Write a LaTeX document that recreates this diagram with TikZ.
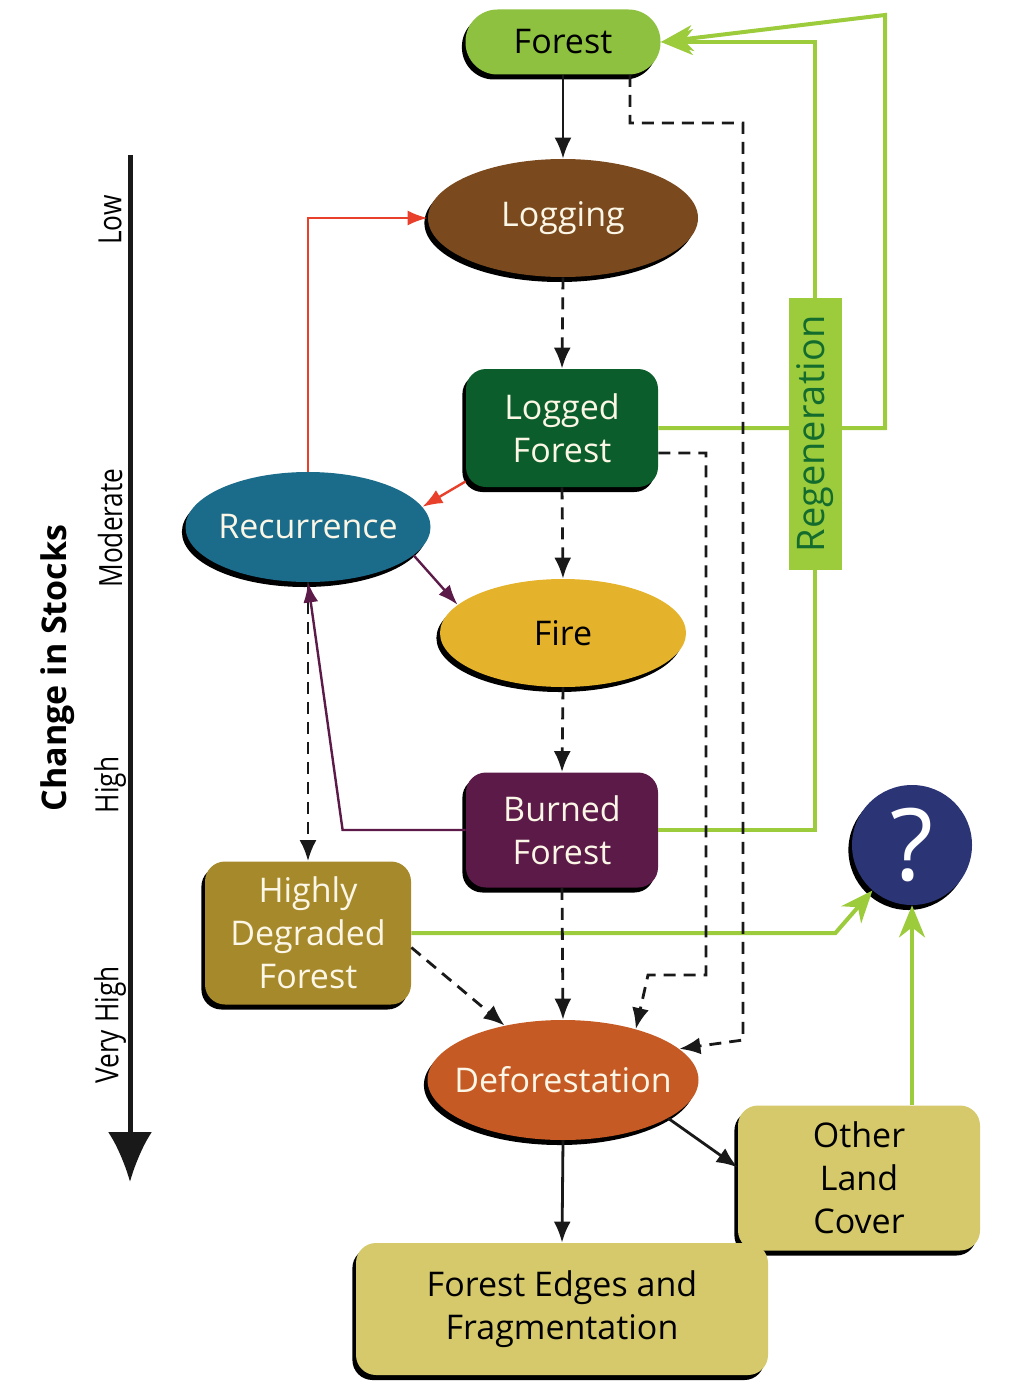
\documentclass[tikz,border=0pt]{standalone}
\usepackage{fontspec}
\setmainfont{Open Sans}
\newfontfamily\narrowfont{Open Sans}[FakeStretch=0.82]
\usetikzlibrary{shapes.geometric,arrows.meta,shadows}

\definecolor{cforest}{HTML}{8DC13F}
\definecolor{clogging}{HTML}{7A4A1E}
\definecolor{clogged}{HTML}{0B5E2B}
\definecolor{crecur}{HTML}{1B6B8A}
\definecolor{cfire}{HTML}{E4B32B}
\definecolor{cburned}{HTML}{5B1A48}
\definecolor{chdf}{HTML}{A6892A}
\definecolor{cdefor}{HTML}{C55A24}
\definecolor{cq}{HTML}{2B3576}
\definecolor{cland}{HTML}{D5C96C}
\definecolor{cregen}{HTML}{9CCB3C}
\definecolor{cregentext}{HTML}{136B2D}
\definecolor{cred}{HTML}{E8402A}
\definecolor{cpurple}{HTML}{5B1A48}
\definecolor{ctext}{HTML}{FBF6E6}

\newcommand{\elltext}[1]{\makebox[0pt]{#1}}

\tikzset{
    castshadow/.style={general shadow={fill=black, shadow xshift=-1.8pt, shadow yshift=-2.5pt}},
    ovalnode/.style={ellipse, castshadow, inner sep=0pt, font=\fontsize{17}{21.5}\selectfont},
    roundbox/.style={rectangle, rounded corners=10pt, castshadow, inner sep=0pt, align=center, font=\fontsize{17}{21.5}\selectfont},
    blackarrow/.style={black!90, line width=1.4pt, -{Latex[length=10.5pt,width=8.5pt]}},
    dasharrow/.style={blackarrow, dash pattern=on 6pt off 4pt},
    greenline/.style={cregen, line width=2pt},
    greenarrow/.style={greenline, -{Stealth[length=16pt,width=13pt,inset=5pt]}},
    redarrow/.style={cred, line width=1.2pt, -{Latex[length=10pt,width=7.5pt]}},
    purplearrow/.style={cpurple, line width=1.2pt, -{Latex[length=10pt,width=7.5pt]}},
    stocklabel/.style={rotate=90, font=\narrowfont\fontsize{16}{18}\selectfont}
}

\begin{document}
\begin{tikzpicture}[x=0.5pt, y=-0.5pt]
            \useasboundingbox (0,0) rectangle (1024,1391);

            \coordinate (axistop) at (130,155);
            \coordinate (axisbot) at (130,1182);
            \draw[line width=2.5pt, black!90, -{Latex[length=25pt,width=22pt]}] (axistop) -- (axisbot);
            \node[stocklabel] (low) at (110,220) {Low};
            \node[stocklabel] (moderate) at (110,528) {Moderate};
            \node[stocklabel] (high) at (110,785) {High};
            \node[stocklabel] (veryhigh) at (110,1025) {Very High};
            \node[rotate=90, font=\bfseries\fontsize{17}{20}\selectfont] (stocks) at (58,668) {Change in Stocks};

            \node[roundbox, fill=cforest, rounded corners=16pt, minimum width=97.5pt, minimum height=32.5pt] (forest) at (563,42) {Forest};
            \node[ovalnode, fill=clogging, text=ctext, minimum width=135pt, minimum height=59pt] (logging) at (563,218) {\elltext{Logging}};
            \node[roundbox, fill=clogged, text=ctext, minimum width=96pt, minimum height=59pt] (logged) at (562,428) {Logged\\Forest};
            \node[ovalnode, fill=crecur, text=ctext, minimum width=122.5pt, minimum height=55pt] (recur) at (308,527) {\elltext{Recurrence}};
            \node[ovalnode, fill=cfire, minimum width=123pt, minimum height=54pt] (fire) at (563,633) {\elltext{Fire}};
            \node[roundbox, fill=cburned, text=ctext, minimum width=96pt, minimum height=57.5pt] (burned) at (562,830) {Burned\\Forest};
            \node[roundbox, fill=chdf, text=ctext, minimum width=103pt, minimum height=71.5pt] (hdf) at (308,933) {Highly\\Degraded\\Forest};
            \node[circle, castshadow, fill=cq, text=white, minimum size=60pt, inner sep=0pt, font=\fontsize{50}{50}\selectfont] (q) at (912,845) {?};
            \node[ovalnode, fill=cdefor, text=ctext, minimum width=135.5pt, minimum height=60pt] (defor) at (563,1080) {\elltext{Deforestation}};
            \node[roundbox, fill=cland, minimum width=121pt, minimum height=72.5pt] (other) at (859,1178) {Other\\Land\\Cover};
            \node[roundbox, fill=cland, minimum width=206pt, minimum height=66pt] (edges) at (562,1309) {Forest Edges and\\Fragmentation};

            \coordinate (regenturn) at (885,15);
            \draw[greenarrow] (logged.east) -| (regenturn) -- (forest.east);
            \node[fill=cregen, text=cregentext, minimum width=26.5pt, minimum height=136pt, inner sep=0pt, font=\fontsize{19}{22}\selectfont] (regen) at (815,434) {\rotatebox{90}{Regeneration}};
            \draw[greenline] (burned.east) -| (regen.south);
            \draw[greenarrow] (regen.north) |- (forest.east);
            \draw[greenarrow] (hdf.east) -- ++(424,0) -- (q.229);
            \draw[greenarrow] (q.south |- other.north) -- (q.south);

            \draw[blackarrow] (forest.south) -- (logging.north);
            \draw[dasharrow] (logging.south) -- (logged.north);
            \draw[dasharrow] (logged.south) -- (fire.north);
            \draw[dasharrow] (fire.south) -- (burned.north);
            \draw[dasharrow] (burned.south) -- (defor.north);
            \draw[dasharrow] (hdf.-8) -- (defor.137);
            \draw[dasharrow] (recur.south) -- (hdf.north);
            \draw[dasharrow] ([yshift=-12.5pt]logged.east) -| (706,975) -- (648,975) -- (defor.35);
            \draw[dasharrow] ([xshift=33.5pt]forest.south) |- (743,123) -- (743,1040) -- (defor.15);
            \draw[blackarrow] (defor.south) -- (edges.north);
            \draw[blackarrow] (defor.-20) -- (other.175);

            \draw[redarrow] (recur.north) |- (logging.west);
            \draw[redarrow] (logged.209) -- (recur.10);
            \draw[purplearrow] (recur.-15) -- (fire.165);
            \draw[purplearrow] (burned.west) -- ++(-123,0) -- (recur.south);
        \end{tikzpicture}
\end{document}
